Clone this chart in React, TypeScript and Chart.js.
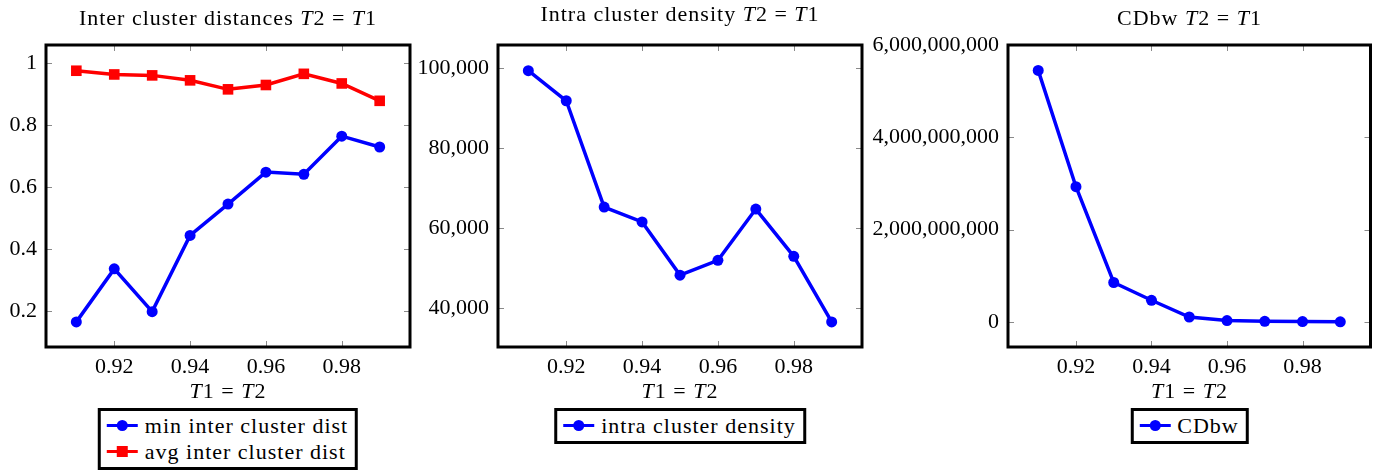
import { useEffect, useRef } from "react";
import { Chart, registerables } from "chart.js";

Chart.register(...registerables);

// Threshold values T1 = T2 on the horizontal axis
const T_VALUES = [0.91, 0.92, 0.93, 0.94, 0.95, 0.96, 0.97, 0.98, 0.99];

// Inter cluster distances
const MIN_INTER_DIST = [0.166, 0.337, 0.199, 0.445, 0.546, 0.649, 0.642, 0.765, 0.73];
const AVG_INTER_DIST = [0.976, 0.964, 0.961, 0.945, 0.916, 0.93, 0.966, 0.935, 0.879];

// Intra cluster density
const INTRA_DENSITY = [99250, 91750, 65200, 61500, 48200, 51900, 64700, 52900, 36500];

// CDbw validity index
const CDBW = [5.45e9, 2.93e9, 0.855e9, 0.47e9, 0.108e9, 0.03e9, 0.015e9, 0.008e9, 0.003e9];

// Tick labels
const X_TICKS = [0.92, 0.94, 0.96, 0.98];
const DIST_TICKS = [0.2, 0.4, 0.6, 0.8, 1];
const DENSITY_TICKS = [40000, 60000, 80000, 100000];
const CDBW_TICKS = [0, 2e9, 4e9, 6e9];

const W = 1376;
const H = 471;
const FONT = "'Liberation Serif', 'Times New Roman', serif";
const BLUE = "#0000ff";
const RED = "#ff0000";

type Series = { label: string; values: number[]; color: string; pointStyle: "circle" | "rect"; radius: number };
type Panel = {
  id: string;
  title: string;
  titleTop: number;
  box: { left: number; right: number; top: number; bottom: number };
  yAxisW: number;
  yMin: number;
  yMax: number;
  yTicks: number[];
  fmt: (v: number) => string;
  series: Series[];
};

const thousands = (v: number) => v.toLocaleString("en-US");

const PANELS: Panel[] = [
  {
    id: "inter",
    title: "Inter cluster distances",
    titleTop: 6.5,
    box: { left: 46, right: 410, top: 45, bottom: 347 },
    yAxisW: 46,
    yMin: 0.085,
    yMax: 1.059,
    yTicks: DIST_TICKS,
    fmt: (v) => String(v),
    series: [
      { label: "min inter cluster dist", values: MIN_INTER_DIST, color: BLUE, pointStyle: "circle", radius: 5.5 },
      { label: "avg inter cluster dist", values: AVG_INTER_DIST, color: RED, pointStyle: "rect", radius: 7.5 },
    ],
  },
  {
    id: "intra",
    title: "Intra cluster density",
    titleTop: 3.2,
    box: { left: 498, right: 862, top: 45, bottom: 347 },
    yAxisW: 120,
    yMin: 30250,
    yMax: 105675,
    yTicks: DENSITY_TICKS,
    fmt: thousands,
    series: [{ label: "intra cluster density", values: INTRA_DENSITY, color: BLUE, pointStyle: "circle", radius: 5.5 }],
  },
  {
    id: "cdbw",
    title: "CDbw",
    titleTop: 6.5,
    box: { left: 1008, right: 1371, top: 45, bottom: 347 },
    yAxisW: 200,
    yMin: -0.542e9,
    yMax: 6e9,
    yTicks: CDBW_TICKS,
    fmt: thousands,
    series: [{ label: "CDbw", values: CDBW, color: BLUE, pointStyle: "circle", radius: 5.5 }],
  },
];

// Inward tick marks on all four sides plus the heavy axis frame
const framePlugin = {
  id: "frame",
  beforeDatasetsDraw(chart: any) {
    const { ctx, chartArea: a, scales } = chart;
    const len = 6;
    ctx.save();
    ctx.strokeStyle = "#8a8a8a";
    ctx.lineWidth = 1;
    ctx.beginPath();
    for (const t of scales.x.ticks) {
      const px = Math.round(scales.x.getPixelForValue(t.value)) + 0.5;
      ctx.moveTo(px, a.top);
      ctx.lineTo(px, a.top + len);
      ctx.moveTo(px, a.bottom);
      ctx.lineTo(px, a.bottom - len);
    }
    for (const t of scales.y.ticks) {
      const py = Math.round(scales.y.getPixelForValue(t.value)) + 0.5;
      ctx.moveTo(a.left, py);
      ctx.lineTo(a.left + len, py);
      ctx.moveTo(a.right, py);
      ctx.lineTo(a.right - len, py);
    }
    ctx.stroke();
    ctx.restore();
  },
  afterDatasetsDraw(chart: any) {
    const { ctx, chartArea: a } = chart;
    ctx.save();
    ctx.strokeStyle = "#000";
    ctx.lineWidth = 3;
    ctx.strokeRect(a.left, a.top, a.right - a.left, a.bottom - a.top);
    ctx.restore();
  },
};

function PanelChart({ panel }: { panel: Panel }) {
  const ref = useRef<HTMLCanvasElement | null>(null);
  useEffect(() => {
    if (!ref.current) return;
    const { box, yAxisW } = panel;
    const xAxisH = 30;
    const chart = new Chart(ref.current, {
      type: "line",
      data: {
        datasets: panel.series.map((s) => ({
          label: s.label,
          data: T_VALUES.map((x, i) => ({ x, y: s.values[i] })),
          borderColor: s.color,
          backgroundColor: s.color,
          pointBackgroundColor: s.color,
          pointBorderColor: s.color,
          pointStyle: s.pointStyle,
          pointRadius: s.radius,
          pointBorderWidth: 0,
          borderWidth: 3.5,
          tension: 0,
        })),
      },
      options: {
        responsive: false,
        animation: false,
        events: [],
        layout: {
          padding: {
            left: box.left - yAxisW,
            right: W - box.right,
            top: box.top,
            bottom: H - box.bottom - xAxisH,
          },
        },
        plugins: { legend: { display: false }, title: { display: false }, tooltip: { enabled: false } },
        scales: {
          x: {
            type: "linear",
            min: 0.902,
            max: 0.998,
            grid: { display: false, drawTicks: false },
            border: { display: false },
            afterBuildTicks: (s: any) => {
              s.ticks = X_TICKS.map((value) => ({ value }));
            },
            afterFit: (s: any) => {
              s.height = xAxisH;
            },
            ticks: {
              autoSkip: false,
              maxRotation: 0,
              padding: 7,
              color: "#000",
              font: { family: FONT, size: 22 },
              callback: (v: any) => Number(v).toFixed(2),
            },
          },
          y: {
            type: "linear",
            min: panel.yMin,
            max: panel.yMax,
            grid: { display: false, drawTicks: false },
            border: { display: false },
            afterBuildTicks: (s: any) => {
              s.ticks = panel.yTicks.map((value) => ({ value }));
            },
            afterFit: (s: any) => {
              s.width = yAxisW;
            },
            ticks: {
              autoSkip: false,
              padding: 9,
              color: "#000",
              font: { family: FONT, size: 22 },
              callback: (v: any) => panel.fmt(Number(v)),
            },
          },
        },
      },
      plugins: [framePlugin],
    });
    return () => chart.destroy();
  }, [panel]);

  const cx = (panel.box.left + panel.box.right) / 2;
  const textStyle = {
    fontFamily: FONT,
    fontSize: 22,
    lineHeight: "22px",
    letterSpacing: "1px",
    color: "#000",
    whiteSpace: "nowrap" as const,
  };

  return (
    <>
      <canvas ref={ref} width={W} height={H} style={{ position: "absolute", left: 0, top: 0, width: W, height: H }} />
      <div style={{ ...textStyle, position: "absolute", left: cx, top: panel.titleTop, transform: "translateX(-50%)" }}>
        {panel.title} <i>T</i>2 = <i>T</i>1
      </div>
      <div style={{ ...textStyle, position: "absolute", left: cx, top: 379.5, transform: "translateX(-50%)" }}>
        <i>T</i>1 = <i>T</i>2
      </div>
      <div
        style={{
          ...textStyle,
          lineHeight: "26px",
          position: "absolute",
          left: cx,
          top: 407.5,
          transform: "translateX(-50%)",
          border: "3px solid #000",
          padding: "2px 7px 2px 6px",
          background: "#fff",
        }}
      >
        {panel.series.map((s) => (
          <div key={s.label} style={{ display: "flex", alignItems: "center", height: 26 }}>
            <span style={{ position: "relative", display: "inline-block", width: 31, height: 26, marginRight: 7 }}>
              <span style={{ position: "absolute", left: 0, top: 11.25, width: 31, height: 3.5, background: s.color }} />
              <span
                style={{
                  position: "absolute",
                  left: 10,
                  top: 7.5,
                  width: 11,
                  height: 11,
                  background: s.color,
                  borderRadius: s.pointStyle === "circle" ? "50%" : 0,
                }}
              />
            </span>
            <span>{s.label}</span>
          </div>
        ))}
      </div>
    </>
  );
}

export default function App() {
  return (
    <div style={{ position: "absolute", left: 0, top: 0, width: W, height: H, background: "#fff", overflow: "hidden" }}>
      {PANELS.map((p) => (
        <PanelChart key={p.id} panel={p} />
      ))}
    </div>
  );
}
